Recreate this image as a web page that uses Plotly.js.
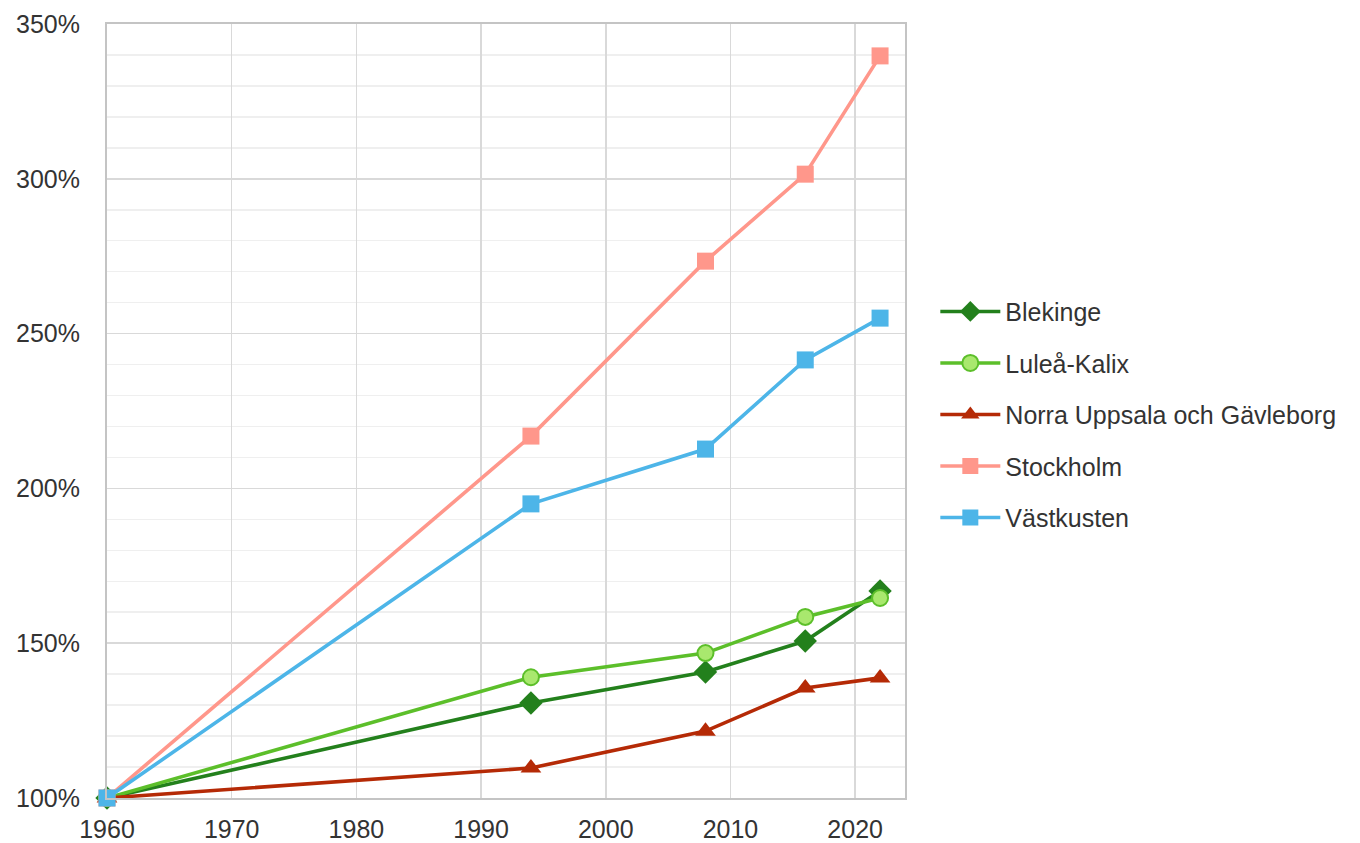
<!DOCTYPE html>
<html>
<head>
<meta charset="utf-8">
<script src="https://cdn.plot.ly/plotly-3.0.1.min.js"></script>
<style>html,body{margin:0;padding:0;background:#fff}#chart{width:1360px;height:843px}</style>
</head>
<body>
<div id="chart"></div>
<script>
const years = [1960, 1994, 2008, 2016, 2022];
const seriesNames = ["Blekinge", "Luleå-Kalix", "Norra Uppsala och Gävleborg", "Stockholm", "Västkusten"];
const blekinge = [100, 130.7, 140.7, 150.7, 166.9];
const luleaKalix = [100, 139.0, 146.8, 158.5, 164.6];
const norraUppsala = [100, 109.7, 121.6, 135.5, 138.8];
const stockholm = [100, 216.9, 273.4, 301.5, 339.7];
const vastkusten = [100, 195.0, 212.7, 241.5, 255.0];
const yTicks = [100, 150, 200, 250, 300, 350];
const xTicks = [1960, 1970, 1980, 1990, 2000, 2010, 2020];

const values = [blekinge, luleaKalix, norraUppsala, stockholm, vastkusten];
const lineColors = ["#23801c", "#5cbf2a", "#b52a06", "#ff978b", "#4db5e8"];
const markerFill = ["#23801c", "#a9e86e", "#b52a06", "#ff978b", "#4db5e8"];
const symbols = ["diamond", "circle", "triangle-up", "square", "square"];
const sizes = [18, 16, 18, 17, 17];

const traces = seriesNames.map((n, i) => ({
  type: "scatter", mode: "lines+markers", name: n, x: years, y: values[i],
  legendgroup: "g" + i,
  cliponaxis: false,
  line: {color: lineColors[i], width: 3.6},
  marker: {symbol: symbols[i], size: sizes[i], color: markerFill[i],
           line: {color: lineColors[i], width: i === 1 ? 2 : 0}}
}));

const layout = {
  width: 1360, height: 843,
  margin: {l: 107, r: 455, t: 24, b: 45},
  paper_bgcolor: "#fff", plot_bgcolor: "#fff",
  font: {family: "Liberation Sans, Arial, sans-serif", size: 25, color: "#333"},
  showlegend: true,
  legend: {x: 1.038, xanchor: "left", y: 0.658, yanchor: "top",
           font: {size: 25, color: "#333"}, itemwidth: 60, tracegroupgap: 16,
           bgcolor: "rgba(0,0,0,0)", borderwidth: 0},
  xaxis: {range: [1960, 2024], tickvals: xTicks, ticktext: xTicks.map(String),
          showgrid: true, gridcolor: "#d9d9d9", gridwidth: 1.5,
          showline: true, mirror: true, linecolor: "#c4c4c4", linewidth: 2,
          zeroline: false, ticks: "", ticklabelstandoff: 8, tickfont: {size: 25}},
  yaxis: {range: [100, 350], tickvals: yTicks, ticktext: yTicks.map(v => v + "%"),
          showgrid: true, gridcolor: "#d9d9d9", gridwidth: 1.5,
          minor: {dtick: 10, tick0: 100, showgrid: true, gridcolor: "#efefef", gridwidth: 1.5, ticks: ""},
          showline: true, mirror: true, linecolor: "#c4c4c4", linewidth: 2,
          zeroline: false, ticks: "", ticklabelstandoff: 20, tickfont: {size: 25}}
};

Plotly.newPlot("chart", traces, layout, {displayModeBar: false, staticPlot: true});
</script>
</body>
</html>
